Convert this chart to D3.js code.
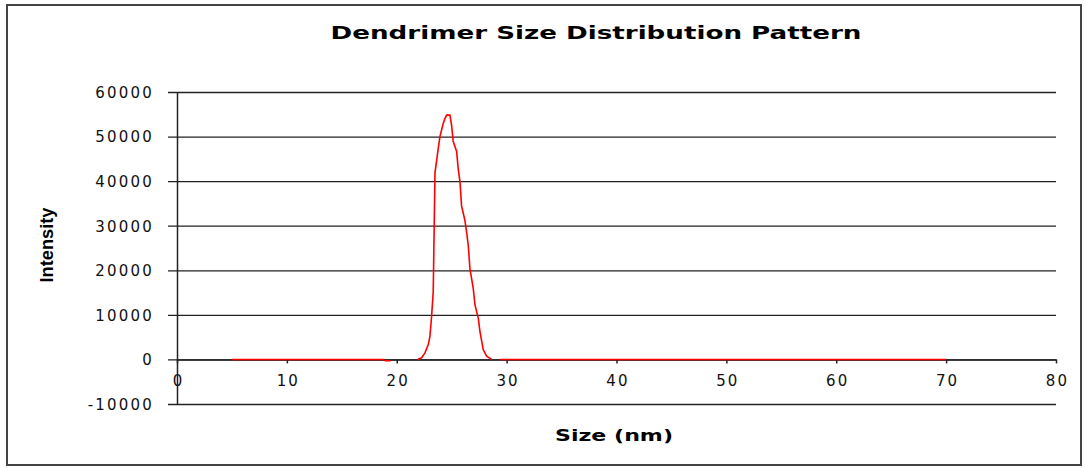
<!DOCTYPE html>
<html><head><meta charset="utf-8">
<script src="https://cdn.jsdelivr.net/npm/d3@7"></script>
<style>body{margin:0;background:#fff}svg{display:block}</style>
</head><body>
<svg id="c" width="1086" height="468"></svg>
<script>
const title = "Dendrimer Size Distribution Pattern";
const xLabel = "Size (nm)";
const yLabel = "Intensity";
const xTicks = [0,10,20,30,40,50,60,70,80];
const yTicks = [-10000,0,10000,20000,30000,40000,50000,60000];
// null intensity = gap in the series
const sizeNm = [5.0,18.8,18.95,19.45,20.5,21.9,22.26,22.57,22.87,23.02,23.17,23.32,23.48,23.78,23.93,24.08,24.23,24.39,24.54,24.84,24.99,25.14,25.45,25.6,25.75,25.9,26.21,26.36,26.51,26.66,26.96,27.12,27.42,27.57,27.87,28.18,28.63,29.0,29.4,70.0];
const intensity = [0,0,-300,-300,null,0,370,1480,3330,5190,9630,15190,41850,47410,50000,51480,52960,54070,54810,54810,52590,48890,46670,42590,40000,34440,31110,28520,25560,20370,15930,12220,9260,6300,2220,740,0,null,0,0];

const svg = d3.select("#c");
const x = d3.scaleLinear().domain([0,80]).range([177,1056]);
const y = d3.scaleLinear().domain([-10000,60000]).range([404,92]);

// frame
svg.append("rect").attr("x",7).attr("y",5).attr("width",1074).attr("height",460)
  .attr("fill","none").attr("stroke","#444").attr("stroke-width",2);

// title
svg.append("text").attr("x",596).attr("y",39).attr("text-anchor","middle")
  .attr("font-family","DejaVu Sans").attr("font-weight","bold").attr("font-size",17)
  .attr("textLength",531).attr("lengthAdjust","spacingAndGlyphs").attr("fill","#000").text(title);

const fmt = d => String(d);

// gridlines + y ticks
const yAxis = d3.axisLeft(y).tickValues(yTicks).tickSize(-(1056-177)).tickSizeOuter(0).tickPadding(23).tickFormat(fmt);
const gy = svg.append("g").attr("transform","translate(177,0)").call(yAxis);
gy.select(".domain").attr("stroke","#222").attr("stroke-width",1.5);
gy.selectAll(".tick line").attr("stroke","#222").attr("stroke-width",1.3).attr("x1",-9);
gy.selectAll(".tick text").attr("font-family","DejaVu Sans").attr("font-size",15)
  .attr("letter-spacing","2.2px").attr("fill","#111").attr("dy","0.36em");

// x axis at y=0
const xAxis = d3.axisBottom(x).tickValues(xTicks).tickSize(4).tickSizeOuter(0).tickPadding(18).tickFormat(fmt);
const gx = svg.append("g").attr("transform",`translate(0,${y(0)})`).call(xAxis);
gx.select(".domain").attr("stroke","#222").attr("stroke-width",1.5);
gx.selectAll(".tick line").attr("stroke","#222").attr("stroke-width",1.5);
gx.selectAll(".tick text").attr("font-family","DejaVu Sans").attr("font-size",15)
  .attr("letter-spacing","2.2px").attr("fill","#111").attr("dx","1px").attr("dy","0.3em");

// series
const pts = sizeNm.map((s,i)=>({s, v:intensity[i]}));
const line = d3.line().defined(d=>d.v!==null).x(d=>x(d.s)).y(d=>y(d.v));
svg.append("path").datum(pts).attr("d",line).attr("fill","none")
  .attr("stroke","#ff0000").attr("stroke-width",1.6);

// axis titles
svg.append("text").attr("x",614).attr("y",441).attr("text-anchor","middle")
  .attr("font-family","DejaVu Sans").attr("font-weight","bold").attr("font-size",15)
  .attr("textLength",118).attr("lengthAdjust","spacingAndGlyphs").text(xLabel);
svg.append("text").attr("transform","translate(53,245) rotate(-90)").attr("text-anchor","middle")
  .attr("font-family","Liberation Sans Narrow, Liberation Sans").attr("font-weight","bold").attr("font-size",18)
  .attr("textLength",75).attr("lengthAdjust","spacingAndGlyphs").text(yLabel);
</script>
</body></html>
